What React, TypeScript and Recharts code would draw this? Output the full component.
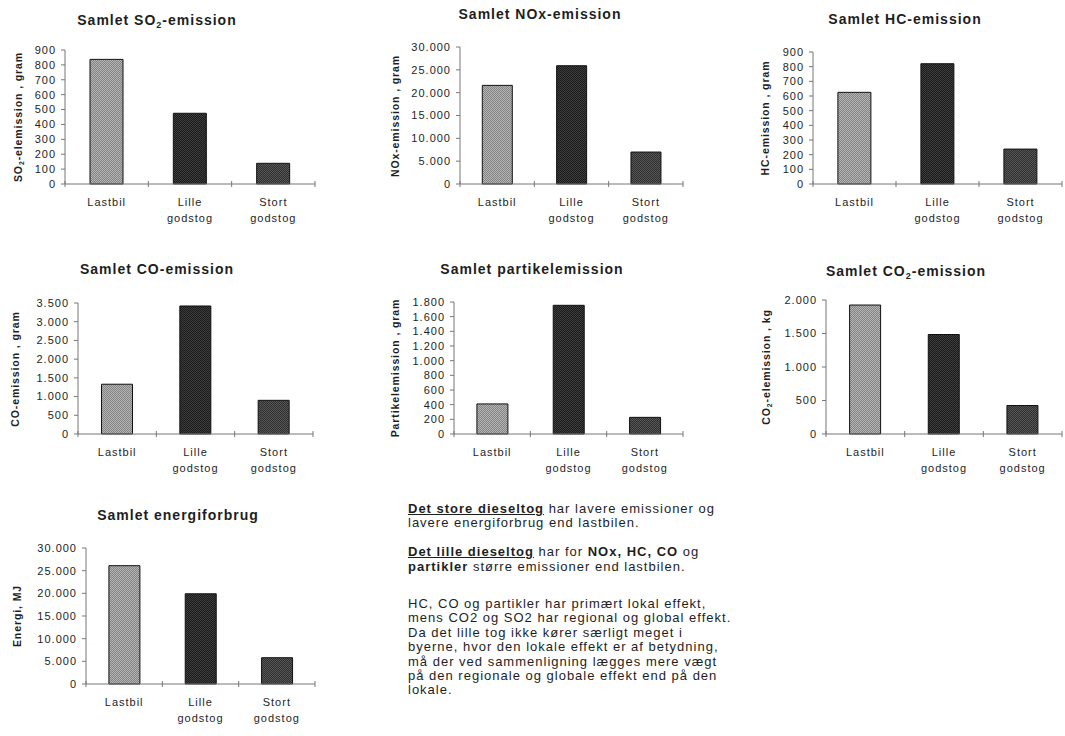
import React from 'react';
import { BarChart, Bar, XAxis, YAxis, Cell } from 'recharts';

// categories shared by all seven panels
const categories = ['Lastbil', 'Lille\ngodstog', 'Stort\ngodstog'];

// values
const so2Values = [837, 475, 139];
const noxValues = [21600, 25900, 7000];
const hcValues = [625, 820, 238];
const coValues = [1330, 3420, 900];
const partikelValues = [410, 1755, 227];
const co2Values = [1925, 1485, 425];
const energiValues = [26100, 19900, 5800];

// y ticks
const so2Ticks = [0, 100, 200, 300, 400, 500, 600, 700, 800, 900];
const noxTicks = [0, 5000, 10000, 15000, 20000, 25000, 30000];
const hcTicks = [0, 100, 200, 300, 400, 500, 600, 700, 800, 900];
const coTicks = [0, 500, 1000, 1500, 2000, 2500, 3000, 3500];
const partikelTicks = [0, 200, 400, 600, 800, 1000, 1200, 1400, 1600, 1800];
const co2Ticks = [0, 500, 1000, 1500, 2000];
const energiTicks = [0, 5000, 10000, 15000, 20000, 25000, 30000];

const FONT = '"Liberation Sans", Arial, Helvetica, sans-serif';
const AXIS = '#777';
const INK = '#1e1e1e';
const barFills = ['url(#patLast)', 'url(#patLille)', 'url(#patStort)'];

// danish thousands separator
const fmt = (n: number) => String(n).replace(/\B(?=(\d{3})+(?!\d))/g, '.');

const Sub = ({ children }: { children: React.ReactNode }) => (
    <span style={{ fontSize: '0.65em', position: 'relative', top: '0.35em' }}>{children}</span>
);

function CategoryTick(props: any) {
    const { x, y, payload, index } = props;
    const lines = String(payload.value).split('\n');
    const half = payload.offset || 0;
    return (
        <g>
            {half > 0 && (
                <line x1={x - half} x2={x - half} y1={y - 3} y2={y + 3} stroke={AXIS} />
            )}
            {half > 0 && index === categories.length - 1 && (
                <line x1={x + half} x2={x + half} y1={y - 3} y2={y + 3} stroke={AXIS} />
            )}
            <text
                x={x}
                y={y + 22}
                textAnchor="middle"
                fill={INK}
                style={{ fontFamily: FONT, fontSize: 11, letterSpacing: 1 }}
            >
                {lines.map((l, i) => (
                    <tspan key={i} x={x} dy={i === 0 ? 0 : 16}>
                        {l}
                    </tspan>
                ))}
            </text>
        </g>
    );
}

type PanelProps = {
    title: React.ReactNode;
    yLabel: React.ReactNode;
    values: number[];
    ticks: number[];
    left: number;
    top: number;
    right: number;
    bottom: number;
    labelX: number;
    titleX: number;
    titleY: number;
};

function Panel(p: PanelProps) {
    const boxL = p.labelX - 10;
    const boxT = p.top - 8;
    const boxW = p.right - boxL + 2;
    const boxH = p.bottom - boxT + 44;
    const data = categories.map((name, i) => ({ name, value: p.values[i] }));

    return (
        <>
            <div
                style={{
                    position: 'absolute',
                    left: p.titleX,
                    top: p.titleY - 9,
                    transform: 'translateX(-50%)',
                    whiteSpace: 'nowrap',
                    fontWeight: 'bold',
                    fontSize: 14,
                    lineHeight: '18px',
                    letterSpacing: 1,
                    color: INK,
                }}
            >
                {p.title}
            </div>
            <div
                style={{
                    position: 'absolute',
                    left: p.labelX,
                    top: (p.top + p.bottom) / 2,
                    transform: 'translate(-50%, -50%) rotate(-90deg)',
                    whiteSpace: 'nowrap',
                    fontWeight: 'bold',
                    fontSize: 10.5,
                    lineHeight: '12px',
                    letterSpacing: 0.9,
                    color: INK,
                }}
            >
                {p.yLabel}
            </div>
            <div style={{ position: 'absolute', left: boxL, top: boxT }}>
                <BarChart
                    width={boxW}
                    height={boxH}
                    data={data}
                    margin={{ top: p.top - boxT, right: boxL + boxW - p.right, bottom: 0, left: 0 }}
                    barCategoryGap="30%"
                >
                    <XAxis
                        dataKey="name"
                        interval={0}
                        tickLine={false}
                        tickSize={0}
                        tickMargin={0}
                        height={boxT + boxH - p.bottom}
                        axisLine={{ stroke: AXIS }}
                        tick={<CategoryTick />}
                    />
                    <YAxis
                        width={p.left - boxL}
                        domain={[0, p.ticks[p.ticks.length - 1]]}
                        ticks={p.ticks}
                        interval={0}
                        tickFormatter={fmt}
                        tick={{ fill: INK, fontSize: 11, fontFamily: FONT, letterSpacing: 1 }}
                        tickLine={{ stroke: AXIS }}
                        tickSize={4}
                        tickMargin={5}
                        axisLine={{ stroke: AXIS }}
                    />
                    <Bar dataKey="value" stroke="#111" strokeWidth={1} isAnimationActive={false}>
                        {data.map((d, i) => (
                            <Cell key={d.name} fill={barFills[i]} />
                        ))}
                    </Bar>
                </BarChart>
            </div>
        </>
    );
}

export default function App() {
    return (
        <div
            style={{
                position: 'absolute',
                left: 0,
                top: 0,
                width: 1065,
                height: 736,
                background: '#fff',
                fontFamily: FONT,
                overflow: 'hidden',
            }}
        >
            {/* stipple fills like the scan */}
            <svg width={0} height={0} style={{ position: 'absolute' }}>
                <defs>
                    <pattern id="patLast" width={2} height={2} patternUnits="userSpaceOnUse">
                        <rect width={2} height={2} fill="#b4b4b4" />
                        <rect width={1} height={1} fill="#848484" />
                        <rect x={1} y={1} width={1} height={1} fill="#848484" />
                    </pattern>
                    <pattern id="patLille" width={2} height={2} patternUnits="userSpaceOnUse">
                        <rect width={2} height={2} fill="#3c3c3c" />
                        <rect width={1} height={1} fill="#1c1c1c" />
                        <rect x={1} y={1} width={1} height={1} fill="#1c1c1c" />
                    </pattern>
                    <pattern id="patStort" width={2} height={2} patternUnits="userSpaceOnUse">
                        <rect width={2} height={2} fill="#555" />
                        <rect width={1} height={1} fill="#303030" />
                        <rect x={1} y={1} width={1} height={1} fill="#303030" />
                    </pattern>
                </defs>
            </svg>

            <Panel
                title={<>Samlet SO<Sub>2</Sub>-emission</>}
                yLabel={<>SO<Sub>2</Sub>-elemission , gram</>}
                values={so2Values}
                ticks={so2Ticks}
                left={65}
                top={50}
                right={315}
                bottom={184}
                labelX={19}
                titleX={157}
                titleY={20}
            />
            <Panel
                title="Samlet NOx-emission"
                yLabel="NOx-emission , gram"
                values={noxValues}
                ticks={noxTicks}
                left={460}
                top={47}
                right={683}
                bottom={184}
                labelX={395}
                titleX={540}
                titleY={14}
            />
            <Panel
                title="Samlet HC-emission"
                yLabel="HC-emission , gram"
                values={hcValues}
                ticks={hcTicks}
                left={813}
                top={52}
                right={1062}
                bottom={184}
                labelX={765}
                titleX={905}
                titleY={19}
            />
            <Panel
                title="Samlet CO-emission"
                yLabel="CO-emission , gram"
                values={coValues}
                ticks={coTicks}
                left={78}
                top={303}
                right={313}
                bottom={434}
                labelX={15}
                titleX={157}
                titleY={269}
            />
            <Panel
                title="Samlet partikelemission"
                yLabel="Partikelemission , gram"
                values={partikelValues}
                ticks={partikelTicks}
                left={454}
                top={302}
                right={683}
                bottom={434}
                labelX={395}
                titleX={532}
                titleY={269}
            />
            <Panel
                title={<>Samlet CO<Sub>2</Sub>-emission</>}
                yLabel={<>CO<Sub>2</Sub>-elemission , kg</>}
                values={co2Values}
                ticks={co2Ticks}
                left={826}
                top={300}
                right={1062}
                bottom={434}
                labelX={767}
                titleX={906}
                titleY={271}
            />
            <Panel
                title="Samlet energiforbrug"
                yLabel="Energi, MJ"
                values={energiValues}
                ticks={energiTicks}
                left={86}
                top={548}
                right={315}
                bottom={684}
                labelX={17}
                titleX={178}
                titleY={515}
            />

            {/* explanatory text next to the last chart */}
            <div
                style={{
                    position: 'absolute',
                    left: 408,
                    top: 502,
                    width: 400,
                    fontSize: 13,
                    lineHeight: '14.4px',
                    letterSpacing: 1,
                    color: INK,
                }}
            >
                <div>
                    <b style={{ textDecoration: 'underline' }}>Det store dieseltog</b> har lavere emissioner og
                    <br />
                    lavere energiforbrug end lastbilen.
                </div>
                <div style={{ marginTop: 14.4 }}>
                    <b style={{ textDecoration: 'underline' }}>Det lille dieseltog</b> har for <b>NOx, HC, CO</b> og
                    <br />
                    <b>partikler</b> større emissioner end lastbilen.
                </div>
                <div style={{ marginTop: 23 }}>
                    HC, CO og partikler har primært lokal effekt,
                    <br />
                    mens CO2 og SO2 har regional og global effekt.
                    <br />
                    Da det lille tog ikke kører særligt meget i
                    <br />
                    byerne, hvor den lokale effekt er af betydning,
                    <br />
                    må der ved sammenligning lægges mere vægt
                    <br />
                    på den regionale og globale effekt end på den
                    <br />
                    lokale.
                </div>
            </div>
        </div>
    );
}
